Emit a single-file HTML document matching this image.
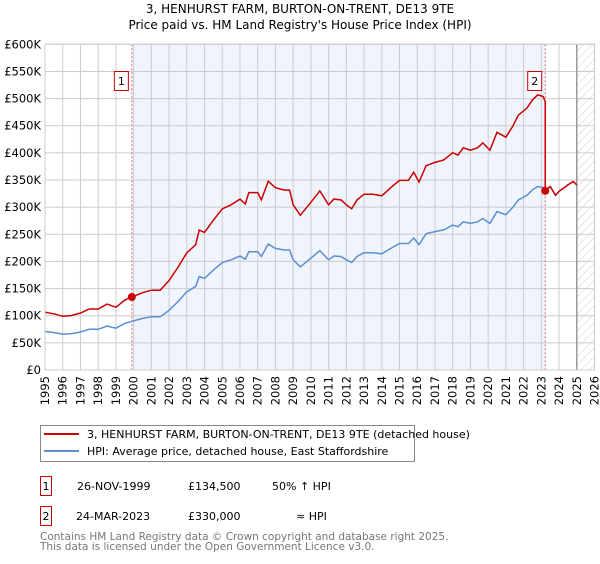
<!DOCTYPE html>
<html><head><meta charset="utf-8"><style>
body{margin:0;background:#fff;font-family:"DejaVu Sans","Liberation Sans",sans-serif;}
svg text{font-family:"DejaVu Sans","Liberation Sans",sans-serif;}
</style></head><body>
<svg id="chart" width="600" height="560" xmlns="http://www.w3.org/2000/svg">
<defs><pattern id="hatch" width="6" height="6" patternUnits="userSpaceOnUse" patternTransform="rotate(45)"><line x1="0" y1="0" x2="0" y2="6" stroke="#ccc" stroke-width="1"/></pattern></defs>
<text x="300" y="13" text-anchor="middle" font-size="12">3, HENHURST FARM, BURTON-ON-TRENT, DE13 9TE</text>
<text x="300" y="29" text-anchor="middle" font-size="12">Price paid vs. HM Land Registry's House Price Index (HPI)</text>
<g id="plot"></g>
<g>
<rect x="40.5" y="425.5" width="374" height="36" fill="#fff" stroke="#888"/>
<line x1="44" y1="434" x2="79" y2="434" stroke="#cc0000" stroke-width="2"/>
<text x="87" y="438" font-size="11">3, HENHURST FARM, BURTON-ON-TRENT, DE13 9TE (detached house)</text>
<line x1="44" y1="451" x2="79" y2="451" stroke="#5b8fd1" stroke-width="2"/>
<text x="87" y="455" font-size="11">HPI: Average price, detached house, East Staffordshire</text>
</g>
<g font-size="11">
<rect x="40.5" y="476.5" width="11" height="19" fill="#fff" stroke="#cc0000"/>
<text x="46" y="490" text-anchor="middle">1</text>
<text x="77" y="490">26-NOV-1999</text>
<text x="188" y="490">£134,500</text>
<text x="272" y="490">50% ↑ HPI</text>
<rect x="40.5" y="506.5" width="11" height="19" fill="#fff" stroke="#cc0000"/>
<text x="46" y="520" text-anchor="middle">2</text>
<text x="76" y="520">24-MAR-2023</text>
<text x="188" y="520">£330,000</text>
<text x="296" y="520">≈ HPI</text>
</g>
<text x="40" y="540" font-size="10.5" fill="#777">Contains HM Land Registry data © Crown copyright and database right 2025.</text>
<text x="40" y="550" font-size="10.5" fill="#777">This data is licensed under the Open Government Licence v3.0.</text>
</svg>
<script>
const hpiYears=[1995,1995.5,1996,1996.5,1997,1997.5,1998,1998.5,1999,1999.5,1999.9,2000.5,2001,2001.5,2002,2002.5,2003,2003.5,2003.7,2004,2004.5,2005,2005.5,2006,2006.3,2006.5,2007,2007.2,2007.6,2008,2008.5,2008.8,2009,2009.4,2010,2010.5,2011,2011.3,2011.7,2012,2012.3,2012.6,2013,2013.5,2014,2014.5,2015,2015.5,2015.8,2016.1,2016.5,2017,2017.5,2018,2018.3,2018.6,2019,2019.4,2019.7,2020.1,2020.5,2021,2021.4,2021.7,2022.2,2022.5,2022.8,2023.1,2023.22,2023.5,2023.8,2024,2024.5,2024.8,2025];
const hpiValues=[71,69,66,67,70,75,75,81,77,86,89.7,95,98,98,110,126,144,154,172,169,184,198,203,210,204,218,218,209,232,224,221,221,203,190,206,220,203,210,209,203,198,209,216,216,214,224,233,233,243,231,251,255,258,267,264,273,270,273,279,270,292,286,300,313,322,332,338,336,330,338,322,329,341,347,341];
const saleYears=[1999.9,2023.22];
const salePrices=[134.5,330];
const saleLabels=["1","2"];
const yTicks=[0,50,100,150,200,250,300,350,400,450,500,550,600];
const yTickLabels=["£0","£50K","£100K","£150K","£200K","£250K","£300K","£350K","£400K","£450K","£500K","£550K","£600K"];
const xTicks=[1995,1996,1997,1998,1999,2000,2001,2002,2003,2004,2005,2006,2007,2008,2009,2010,2011,2012,2013,2014,2015,2016,2017,2018,2019,2020,2021,2022,2023,2024,2025,2026];

const L=45,R=594.5,T=44.3,B=370;
const x=v=>L+(v-1995)/(2026-1995)*(R-L);
const y=v=>B-v/600*(B-T);
const NS="http://www.w3.org/2000/svg";
const g=document.getElementById('plot');
function mk(tag,attrs,parent){const e=document.createElementNS(NS,tag);for(const k in attrs)e.setAttribute(k,attrs[k]);(parent||g).appendChild(e);return e;}
// shaded region
let sh=mk('rect',{x:x(saleYears[0]),y:T,width:x(saleYears[1])-x(saleYears[0]),height:B-T,fill:'#f0f4fc'});


let hz=mk('rect',{x:x(2025),y:T,width:R-x(2025),height:B-T,fill:'url(#hatch)'});


// grid
yTicks.forEach((t,i)=>{
 let l=mk('line',{x1:L,x2:R,y1:y(t),y2:y(t),stroke:'#ccc','stroke-width':1});
 
 
 let tx=mk('text',{x:L-4,y:y(t)+4,'text-anchor':'end','font-size':11.5});
 tx.textContent=yTickLabels[i];
 
 
});
xTicks.forEach(t=>{
 let l=mk('line',{x1:x(t),x2:x(t),y1:T,y2:B,stroke:'#ccc','stroke-width':1});
 
 
 let tx=mk('text',{x:0,y:0,'text-anchor':'end','font-size':11.5,transform:`translate(${x(t)+4},${B+6}) rotate(-90)`});
 tx.textContent=t;
 
 
});
let vl=mk('line',{x1:x(2025),x2:x(2025),y1:T,y2:B,stroke:'#999','stroke-width':1.5});


// sale markers lines
saleYears.forEach(s=>{
 let l=mk('line',{x1:x(s),x2:x(s),y1:T,y2:B,stroke:'#e06666','stroke-width':1,'stroke-dasharray':'2,2'});
 
 
});
// HPI line
let hp=hpiYears.map((yr,i)=>x(yr).toFixed(1)+','+y(hpiValues[i]).toFixed(1)).join(' ');
let hl=mk('polyline',{points:hp,fill:'none',stroke:'#5b8fd1','stroke-width':1.5});


// price line: HPI indexed from each sale
function hpiAt(yr){for(let i=1;i<hpiYears.length;i++){if(yr<=hpiYears[i]){const f=(yr-hpiYears[i-1])/(hpiYears[i]-hpiYears[i-1]);return hpiValues[i-1]+f*(hpiValues[i]-hpiValues[i-1]);}}return hpiValues[hpiValues.length-1];}
const r1=salePrices[0]/hpiAt(saleYears[0]),r2=salePrices[1]/hpiAt(saleYears[1]);
let pts=[];
hpiYears.forEach((yr,i)=>{if(yr<saleYears[1])pts.push([yr,hpiValues[i]*r1]);});
pts.push([saleYears[1],hpiAt(saleYears[1])*r1]);
pts.push([saleYears[1],salePrices[1]]);
hpiYears.forEach((yr,i)=>{if(yr>saleYears[1])pts.push([yr,hpiValues[i]*r2]);});
let pl=mk('polyline',{points:pts.map(p=>x(p[0]).toFixed(1)+','+y(p[1]).toFixed(1)).join(' '),fill:'none',stroke:'#cc0000','stroke-width':1.5});


saleYears.forEach((s,i)=>{
 let c=mk('circle',{cx:x(s),cy:y(salePrices[i]),r:4,fill:'#cc0000'});
 
 
 let b=mk('rect',{x:x(s)-17.5,y:71.5,width:14,height:19,fill:'#fff',stroke:'#cc0000'});
 
 
 let t=mk('text',{x:x(s)-10.5,y:85,'text-anchor':'middle','font-size':11});
 t.textContent=saleLabels[i];
 
 
});
let fr=mk('rect',{x:L,y:T,width:R-L,height:B-T,fill:'none',stroke:'#ccc'});


</script>
</body></html>
